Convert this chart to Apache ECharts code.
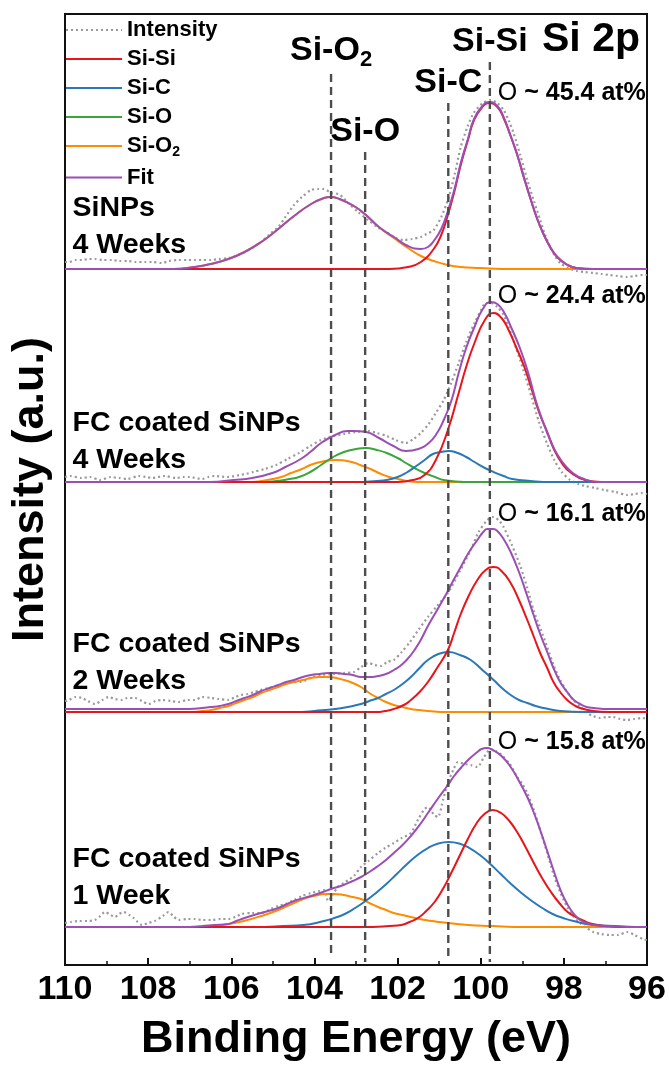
<!DOCTYPE html>
<html>
<head>
<meta charset="utf-8">
<script src="https://cdn.jsdelivr.net/npm/echarts@6/dist/echarts.min.js"></script>
<style>html,body{margin:0;padding:0;background:#fff}#c{width:669px;height:1067px}</style>
</head>
<body>
<div id="c"></div>
<script>
// ---------- data (Binding energy in eV, intensity in a.u. above each panel's baseline) ----------
const seriesNames = ['Intensity', 'Si-Si', 'Si-C', 'Si-O', 'Si-O2', 'Fit'];
const panelNames = ['SiNPs\n4 Weeks', 'FC coated SiNPs\n4 Weeks', 'FC coated SiNPs\n2 Weeks', 'FC coated SiNPs\n1 Week'];
const oxygenAt = ['45.4', '24.4', '16.1', '15.8'];
const panelOffsets = [696, 483, 253, 38];
const peakNames = ['Si-O2', 'Si-O', 'Si-C', 'Si-Si'];
const peakEnergies = [103.6, 102.78, 100.78, 99.78];
const xTicks = [110, 108, 106, 104, 102, 100, 98, 96];

// Panel 1: SiNPs 4 Weeks
const p1Intensity = [[110,7],[109.9,7],[109.75,9],[109.59,9],[109.43,10],[109.28,10],[109.1,9],[108.87,9],[108.7,8],[108.47,8],[108.3,7],[108.08,7],[107.9,7],[107.67,6],[107.5,8],[107.27,9],[107.05,9],[106.88,9],[106.7,9],[106.48,9],[106.3,10],[106.07,11],[105.9,13],[105.68,17],[105.5,21],[105.28,27],[105.1,34],[104.87,42],[104.7,52],[104.49,64],[104.3,72],[104.08,79],[103.9,80],[103.77,80],[103.6,76],[103.43,75],[103.3,71],[103.19,66],[102.95,57],[102.71,49],[102.45,41],[102.23,36],[102.05,31],[101.85,29],[101.65,30],[101.44,32],[101.3,35],[101.13,39],[100.95,52],[100.79,69],[100.63,94],[100.48,122],[100.32,142],[100.17,156],[99.95,166],[99.76,169],[99.6,166],[99.45,159],[99.33,149],[99.21,136],[99.05,114],[98.88,89],[98.72,68],[98.57,49],[98.45,34],[98.33,22],[98.2,12],[98.09,6],[97.9,1],[97.68,-2],[97.5,-3],[97.29,-4],[97.1,-5],[96.89,-6],[96.7,-7],[96.48,-8],[96.3,-7],[96.1,-6],[96,-6]];
const p1SiSi = [[110,0],[102.2,0],[101.75,2],[101.44,7],[101.13,20],[100.95,34],[100.79,54],[100.63,78],[100.48,104],[100.3,130],[100.17,148],[99.98,161],[99.79,166],[99.6,162],[99.45,151],[99.28,133],[99.12,114],[98.95,90],[98.8,70],[98.64,50],[98.49,35],[98.33,22],[98.16,12],[97.95,5],[97.7,1],[97.3,0],[96,0]];
const p1SiO2 = [[110,0],[107.4,0],[106.9,2],[106.5,5],[106.07,10],[105.68,17],[105.28,27],[104.87,40],[104.49,53],[104.08,65],[103.77,71],[103.62,72],[103.4,70],[103.05,63],[102.76,54],[102.45,42],[102.09,31],[101.75,21],[101.44,13],[101.13,8],[100.79,4],[100.48,2],[100,1],[99.5,0],[96,0]];
const p1Fit = [[110,0],[107.4,0],[106.9,2],[106.5,5],[106.07,10],[105.68,17],[105.28,27],[104.87,40],[104.49,53],[104.08,65],[103.77,71],[103.62,72],[103.4,70],[103.05,63],[102.76,54],[102.45,42],[102.09,32],[101.75,23],[101.44,20],[101.27,22],[101.13,28],[100.95,40],[100.79,58],[100.63,80],[100.48,106],[100.3,131],[100.17,149],[99.98,162],[99.79,167],[99.6,163],[99.45,152],[99.28,133],[99.12,114],[98.95,90],[98.8,70],[98.64,50],[98.49,35],[98.33,22],[98.16,12],[97.95,5],[97.7,1],[97.3,0],[96,0]];

// Panel 2: FC coated SiNPs 4 Weeks
const p2Intensity = [[110,5],[109.88,6],[109.6,4],[109.4,5],[109.16,2],[108.9,5],[108.7,4],[108.5,3],[108.23,6],[108.05,5],[107.9,4],[107.6,6],[107.32,4],[107.15,5],[107,5],[106.7,3],[106.55,5],[106.4,6],[106.1,5],[105.8,7],[105.65,8],[105.47,10],[105.2,13],[104.92,17],[104.65,23],[104.37,29],[104.1,36],[103.84,42],[103.55,46],[103.29,48],[103,50],[102.71,51],[102.5,49],[102.26,46],[102.05,42],[101.8,39],[101.62,43],[101.44,49],[101.25,58],[101.08,69],[100.89,82],[100.7,100],[100.53,119],[100.35,140],[100.15,159],[100,171],[99.88,179],[99.75,179],[99.6,175],[99.45,167],[99.33,155],[99.15,134],[98.95,109],[98.77,84],[98.59,59],[98.4,38],[98.23,22],[98.05,10],[97.85,2],[97.65,-2],[97.49,-4],[97.25,-6],[97.03,-8],[96.75,-10],[96.48,-13],[96.3,-12],[96.12,-11],[96,-12]];
const p2SiSi = [[110,0],[102,0],[101.63,2],[101.35,7],[101.08,22],[100.79,52],[100.53,89],[100.35,115],[100.15,139],[99.9,162],[99.69,169],[99.5,164],[99.33,152],[99.15,135],[98.95,115],[98.77,92],[98.59,69],[98.4,50],[98.23,32],[98.05,19],[97.85,10],[97.49,2],[97.1,0],[96,0]];
const p2SiC = [[110,0],[103,0],[102.5,1],[102.26,2],[102,5],[101.8,9],[101.55,16],[101.35,22],[101.15,28],[100.95,30],[100.77,31],[100.55,29],[100.35,25],[100.15,20],[99.9,14],[99.69,10],[99.45,6],[99.24,3],[98.8,1],[98.3,0],[96,0]];
const p2SiO = [[110,0],[105.3,0],[104.92,1],[104.6,3],[104.37,5],[104.1,10],[103.84,17],[103.55,25],[103.29,30],[103.0,33],[102.76,34],[102.5,32],[102.26,29],[102.0,24],[101.8,19],[101.55,13],[101.35,9],[101.1,5],[100.89,2],[100.4,0],[96,0]];
const p2SiO2 = [[110,0],[105.5,0],[105.01,3],[104.8,5],[104.56,9],[104.3,13],[104.1,17],[103.8,20.5],[103.46,22],[103.1,20],[102.9,17],[102.65,13],[102.45,9],[102.2,5],[101.99,3],[101.54,0],[96,0]];
const p2Fit = [[110,0],[106.5,0],[105.95,2],[105.5,4],[105.01,9],[104.7,15],[104.37,22],[104.1,30],[103.84,39],[103.5,47],[103.2,51],[103.05,51],[102.76,50],[102.45,44],[102.1,36],[101.8,31],[101.5,33],[101.25,39],[101.05,49],[100.89,62],[100.7,82],[100.53,109],[100.35,134],[100.15,155],[99.95,173],[99.76,180],[99.6,178],[99.43,169],[99.25,153],[99.04,132],[98.85,108],[98.68,82],[98.5,60],[98.33,42],[98.15,27],[97.94,15],[97.75,8],[97.58,4],[97.22,0],[96,0]];

// Panel 3: FC coated SiNPs 2 Weeks
const p3Intensity = [[110,11],[109.9,12],[109.75,15],[109.59,14],[109.45,11],[109.28,8],[109.1,12],[108.95,15],[108.8,13],[108.63,12],[108.5,14],[108.32,14],[108.15,11],[107.99,8],[107.82,11],[107.67,12],[107.45,11],[107.27,10],[107.05,12],[106.88,12],[106.7,15],[106.48,14],[106.3,13],[106.07,12],[105.9,15],[105.76,17],[105.6,18],[105.45,20],[105.3,22],[105.11,24],[104.9,26],[104.63,29],[104.45,30],[104.32,30],[104.1,34],[103.84,37],[103.55,38],[103.29,39],[103.05,40],[102.88,45],[102.7,49],[102.55,47],[102.4,46],[102.25,50],[102.09,52],[101.9,60],[101.7,70],[101.5,82],[101.27,95],[101.05,106],[100.79,119],[100.5,141],[100.24,162],[100.05,180],[99.84,192],[99.69,195],[99.55,191],[99.45,185],[99.25,167],[99.04,145],[98.88,124],[98.73,102],[98.55,82],[98.4,65],[98.25,47],[98.09,32],[97.92,20],[97.77,12],[97.6,5],[97.44,-1],[97.3,-4],[97.13,-6],[96.97,-5],[96.82,-5],[96.65,-7],[96.48,-8],[96.3,-7],[96.1,-6],[96,-7]];
const p3SiSi = [[110,0],[102.5,0],[102.3,1],[102.09,3],[101.85,7],[101.68,12],[101.47,20],[101.27,30],[101.05,44],[100.79,62],[100.64,79],[100.48,98],[100.28,117],[100.08,132],[99.88,142],[99.69,145],[99.5,141],[99.28,129],[99.08,112],[98.88,92],[98.72,75],[98.57,59],[98.4,44],[98.25,30],[98.09,20],[97.92,12],[97.76,7],[97.61,4],[97.29,1],[96.9,0],[96,0]];
const p3SiC = [[110,0],[104.3,0],[104,1],[103.5,3],[103.2,5],[102.88,8],[102.68,11],[102.47,14],[102.28,18],[102.09,22],[101.88,28],[101.68,35],[101.47,44],[101.27,52],[101.02,58],[100.77,60],[100.5,57],[100.24,52],[99.96,42],[99.69,32],[99.49,24],[99.28,17],[99.08,12],[98.88,9],[98.68,6],[98.49,4],[98.09,1],[97.5,0],[96,0]];
const p3SiO2 = [[110,0],[106.9,0],[106.7,1],[106.48,2],[106.28,4],[106.07,6],[105.88,9],[105.68,12],[105.48,15],[105.28,19],[105.08,22],[104.87,25],[104.68,28],[104.49,30],[104.28,32],[104.08,34],[103.88,35],[103.67,35],[103.48,34],[103.29,32],[103.08,29],[102.88,25],[102.68,19],[102.47,14],[102.28,10],[102.09,7],[101.88,5],[101.68,3],[101.47,2],[101.27,1],[100.8,0],[96,0]];
const p3Fit = [[110,3],[107,3],[106.7,4],[106.5,5],[106.28,6],[106.07,8],[105.88,11],[105.68,14],[105.48,17],[105.28,21],[105.08,24],[104.87,27],[104.68,30],[104.49,32],[104.28,35],[104.08,37],[103.88,38],[103.67,39],[103.48,39],[103.29,38],[103.08,37],[102.88,35],[102.68,35],[102.47,36],[102.28,38],[102.09,42],[101.88,48],[101.68,57],[101.47,70],[101.27,86],[101.02,104],[100.79,121],[100.64,133],[100.48,145],[100.28,160],[100.08,172],[99.94,180],[99.84,183],[99.7,183],[99.6,181],[99.45,173],[99.28,160],[99.08,140],[98.88,116],[98.72,96],[98.57,78],[98.4,60],[98.25,44],[98.09,30],[97.92,20],[97.76,12],[97.61,8],[97.45,5],[97.29,4],[96.9,3],[96,3]];

// Panel 4: FC coated SiNPs 1 Week
const p4Intensity = [[110,4],[109.85,5],[109.66,6],[109.45,6],[109.28,7],[109.15,11],[109.04,15],[108.9,12],[108.8,10],[108.7,13],[108.59,15],[108.45,12],[108.35,9],[108.25,5],[108.15,2],[108,4],[107.84,6],[107.65,11],[107.51,15],[107.4,11],[107.27,7],[107.05,8],[106.88,8],[106.7,7],[106.48,7],[106.25,8],[106.07,8],[105.9,10],[105.76,13],[105.5,14],[105.28,14],[105.05,18],[104.87,21],[104.7,23],[104.49,27],[104.3,31],[104.08,34],[103.9,36],[103.77,37],[103.67,26],[103.55,33],[103.42,41],[103.29,44],[103.15,48],[103.05,51],[102.88,60],[102.7,66],[102.47,74],[102.3,79],[102.09,84],[101.9,89],[101.68,94],[101.5,108],[101.35,118],[101.27,120],[101.12,112],[101.03,110],[100.9,128],[100.79,144],[100.65,158],[100.55,165],[100.4,163],[100.24,162],[100.08,160],[99.92,170],[99.76,178],[99.64,176],[99.52,173],[99.3,163],[99.12,150],[99,143],[98.88,134],[98.72,117],[98.57,97],[98.4,74],[98.25,53],[98.09,35],[97.92,20],[97.76,10],[97.61,4],[97.45,-1],[97.29,-5],[97.1,-7],[96.89,-8],[96.7,-8],[96.48,-5],[96.3,-8],[96.1,-12],[96,-13]];
const p4SiSi = [[110,0],[102.6,0],[102.2,1],[101.91,2],[101.71,5],[101.51,9],[101.31,16],[101.11,25],[100.91,38],[100.71,54],[100.51,71],[100.31,88],[100.11,103],[99.91,113],[99.71,117],[99.51,114],[99.31,106],[99.11,94],[98.91,79],[98.71,63],[98.51,48],[98.31,35],[98.11,24],[97.91,15],[97.71,10],[97.51,6],[97.31,3],[97,1],[96.6,0],[96,0]];
const p4SiC = [[110,0],[105.2,0],[104.77,1],[104.27,2],[103.77,6],[103.52,9],[103.27,13],[103.02,19],[102.77,26],[102.52,34],[102.27,43],[102.02,53],[101.77,63],[101.52,72],[101.27,79],[101.02,83.5],[100.77,85],[100.52,83.5],[100.27,79],[100.02,72],[99.77,63],[99.52,53],[99.27,43],[99.02,34],[98.77,26],[98.52,19],[98.27,13],[98.02,9],[97.77,6],[97.27,2],[96.77,1],[96.3,0],[96,0]];
const p4SiO2 = [[110,0],[106.7,0],[106.4,1],[106.07,3],[105.7,6],[105.28,11],[104.87,17],[104.49,24],[104.2,29],[104.01,31],[103.75,33],[103.53,33],[103.3,32],[103.08,30],[102.88,28],[102.68,24],[102.47,20],[102.28,17],[102.09,14],[101.88,12],[101.68,10],[101.47,8],[101.27,6.5],[101.02,5],[100.77,4],[100.3,2],[99.7,1],[99.2,0],[96,0]];
const p4Fit = [[110,0],[107,0],[106.7,1],[106.4,2],[106.07,3],[105.88,6],[105.68,9],[105.28,14],[104.87,19],[104.49,26],[104.08,31],[103.8,35],[103.6,38],[103.3,42],[103.08,46],[102.88,50],[102.68,55],[102.47,61],[102.28,67],[102.09,74],[101.88,82],[101.68,91],[101.47,102],[101.27,114],[101.02,129],[100.79,142],[100.64,151],[100.48,159],[100.28,168],[100.08,175],[99.98,178],[99.85,179],[99.71,177],[99.5,171],[99.28,160],[99.08,146],[98.88,130],[98.72,114],[98.57,97],[98.4,76],[98.25,57],[98.09,38],[97.92,23],[97.76,13],[97.61,7],[97.45,4],[97.29,2],[96.89,1],[96.5,0],[96,0]];

const panels = [
  {Intensity: p1Intensity, 'Si-Si': p1SiSi, 'Si-O2': p1SiO2, Fit: p1Fit},
  {Intensity: p2Intensity, 'Si-Si': p2SiSi, 'Si-C': p2SiC, 'Si-O': p2SiO, 'Si-O2': p2SiO2, Fit: p2Fit},
  {Intensity: p3Intensity, 'Si-Si': p3SiSi, 'Si-C': p3SiC, 'Si-O2': p3SiO2, Fit: p3Fit},
  {Intensity: p4Intensity, 'Si-Si': p4SiSi, 'Si-C': p4SiC, 'Si-O2': p4SiO2, Fit: p4Fit}
];

// ---------- layout / style ----------
const FONT = '"Liberation Sans", Arial, Helvetica, sans-serif';
const colors = {Intensity: '#9a9a9a', 'Si-Si': '#e8141c', 'Si-C': '#2a78b8', 'Si-O': '#3aa53a', 'Si-O2': '#ff8c00', Fit: '#9b4fb4'};
const peakTop = [891, 813, 862, 903];
const peakBottom = [7, 3, 7, 3];
const panelLabelY = [42, 40, 49, 49];
const oxyLabelY = [176, 186, 198, 185];

const series = [];
panels.forEach((p, i) => {
  const off = panelOffsets[i];
  const order = ['Intensity', 'Si-O2', 'Si-O', 'Si-C', 'Si-Si', 'Fit'];
  order.forEach(n => {
    if (!p[n]) return;
    const isI = n === 'Intensity';
    series.push({
      name: n, type: 'line', symbol: 'none', showSymbol: false, smooth: isI ? 0.25 : 0.5,
      data: p[n].map(d => [d[0], d[1] + off]),
      lineStyle: isI ? {color: colors[n], width: 2.2, type: [2, 3]} : {color: colors[n], width: 2},
      itemStyle: {color: colors[n]},
      z: isI ? 2 : (n === 'Fit' ? 4 : 3), animation: false
    });
  });
});

// dashed reference lines
peakEnergies.forEach((e, k) => {
  series.push({
    type: 'line', symbol: 'none', silent: true, animation: false, z: 6,
    data: [[e, peakTop[k]], [e, peakBottom[k]]],
    lineStyle: {color: '#4d4d4d', width: 2.4, type: [8, 5]}
  });
});

const sub = s => s.replace(/O2$/, 'O{sub|2}');
const txt = (extra) => Object.assign({show: true, color: '#000', opacity: 1, fontFamily: FONT, fontWeight: 'bold', textBorderWidth: 0}, extra);

// text annotations (data coordinates)
const annot = [];
peakNames.forEach((n, k) => {
  annot.push({value: [peakEnergies[k], peakTop[k]], label: txt({position: 'top', distance: 3,
    formatter: sub(n), fontSize: 34,
    rich: {sub: {fontSize: 22, fontWeight: 'bold', fontFamily: FONT, color: '#000', padding: [17, 0, 0, 0]}}})});
});
panelNames.forEach((n, i) => {
  annot.push({value: [109.83, panelOffsets[i] + panelLabelY[i]], label: txt({position: 'right', distance: 0,
    formatter: n, fontSize: 28.5, lineHeight: 37})});
});
oxygenAt.forEach((o, i) => {
  annot.push({value: [99.6, panelOffsets[i] + oxyLabelY[i]], label: txt({position: 'right', distance: 0,
    formatter: '{o|O} ~ ' + o + ' at%', fontSize: 25,
    rich: {o: {fontSize: 25, fontWeight: 'normal', fontFamily: FONT, color: '#000'}}})});
});
series.push({type: 'scatter', symbolSize: 1, itemStyle: {color: '#fff', opacity: 0}, data: annot, z: 10, silent: true, animation: false,
  emphasis: {disabled: true}});

const chart = echarts.init(document.getElementById('c'), null, {renderer: 'canvas'});
chart.setOption({
  backgroundColor: '#fff',
  animation: false,
  title: {text: 'Si 2p', right: 24, top: 14, textStyle: {fontSize: 41, fontWeight: 'bold', color: '#000', fontFamily: FONT}},
  legend: {
    data: seriesNames, orient: 'vertical', left: 60, top: 14, itemWidth: 56, itemHeight: 14, itemGap: 7,
    itemStyle: {opacity: 0},
    formatter: n => sub(n),
    textStyle: {fontSize: 22, fontWeight: 'bold', color: '#000', fontFamily: FONT, lineHeight: 22,
      rich: {sub: {fontSize: 14, fontWeight: 'bold', fontFamily: FONT, color: '#000', padding: [13, 0, 0, 0]}}}
  },
  grid: {left: 63, right: 22, top: 14, bottom: 102, show: true, borderColor: '#111', borderWidth: 2, backgroundColor: 'transparent'},
  xAxis: {
    type: 'value', min: 96, max: 110, interval: 2, inverse: true,
    name: 'Binding Energy (eV)', nameLocation: 'middle', nameGap: 52,
    nameTextStyle: {fontSize: 45, fontWeight: 'bold', color: '#000', fontFamily: FONT},
    axisLine: {show: true, lineStyle: {color: '#111', width: 2}},
    axisTick: {show: true, inside: true, length: 7, lineStyle: {color: '#111', width: 2}},
    minorTick: {show: true, splitNumber: 2, length: 4, lineStyle: {color: '#111', width: 1.5}},
    axisLabel: {fontSize: 34, fontWeight: 'bold', color: '#000', fontFamily: FONT, margin: 8,
      formatter: v => xTicks.includes(v) ? String(v) : ''},
    splitLine: {show: false}
  },
  yAxis: {
    type: 'value', min: 0, max: 951,
    name: 'Intensity (a.u.)', nameLocation: 'middle', nameGap: 12,
    nameTextStyle: {fontSize: 45, fontWeight: 'bold', color: '#000', fontFamily: FONT},
    axisLine: {show: true, lineStyle: {color: '#111', width: 2}},
    axisTick: {show: false}, axisLabel: {show: false}, splitLine: {show: false}
  },
  series: series
});
</script>
</body>
</html>
